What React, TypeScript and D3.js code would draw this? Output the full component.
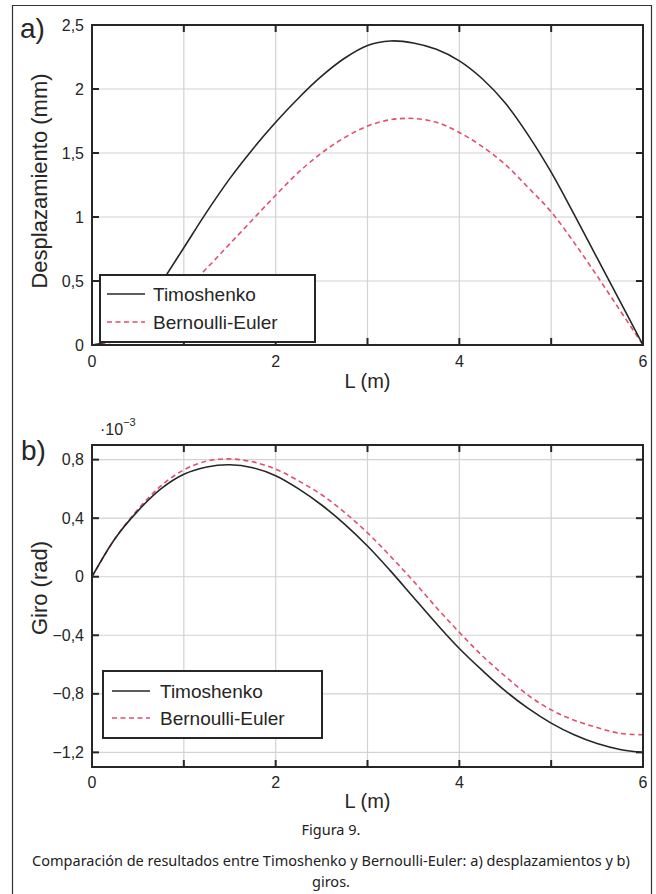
import React from "react";
import * as d3 from "d3";

const W = 656;
const H = 894;

const L_VALUES = [0, 0.25, 0.5, 0.75, 1, 1.25, 1.5, 1.75, 2, 2.25, 2.5, 2.75, 3, 3.25, 3.5, 3.75, 4, 4.25, 4.5, 4.75, 5, 5.25, 5.5, 5.75, 6];

const DISP_TIMOSHENKO = [0, 0.05, 0.2, 0.48, 0.76, 1.04, 1.3, 1.53, 1.74, 1.93, 2.1, 2.24, 2.34, 2.375, 2.36, 2.31, 2.22, 2.08, 1.89, 1.64, 1.35, 1.02, 0.68, 0.34, 0];
const DISP_BERNOULLI = [0, 0.03, 0.12, 0.26, 0.42, 0.6, 0.79, 0.98, 1.17, 1.35, 1.5, 1.62, 1.71, 1.76, 1.77, 1.74, 1.66, 1.55, 1.41, 1.23, 1.04, 0.8, 0.54, 0.27, 0];

const ROT_TIMOSHENKO = [0, 0.26, 0.45, 0.6, 0.7, 0.75, 0.765, 0.745, 0.69, 0.6, 0.49, 0.36, 0.21, 0.04, -0.14, -0.32, -0.49, -0.64, -0.78, -0.9, -1.0, -1.08, -1.14, -1.18, -1.2];
const ROT_BERNOULLI = [0, 0.26, 0.46, 0.62, 0.73, 0.79, 0.805, 0.785, 0.735, 0.655, 0.56, 0.44, 0.3, 0.14, -0.03, -0.21, -0.38, -0.54, -0.68, -0.81, -0.91, -0.98, -1.03, -1.07, -1.08];

const X_GRID = [0, 1, 2, 3, 4, 5, 6];
const X_TICK_LABELS = [0, 2, 4, 6];
const DISP_TICKS = [0, 0.5, 1, 1.5, 2, 2.5];
const ROT_TICKS = [-1.2, -0.8, -0.4, 0, 0.4, 0.8];

const SERIES_NAMES = ["Timoshenko", "Bernoulli-Euler"];

const fmt = (v: number) => {
  if (v === 0) return "0";
  const s = (Math.round(v * 10) / 10).toString().replace(".", ",");
  return s.replace("-", "\u2212");
};

const AXIS_FONT = "'Liberation Sans', Arial, Helvetica, sans-serif";
const CAPTION_FONT = "'Noto Sans', 'Open Sans', sans-serif";
const DARK = "#262626";
const RED = "#e0506a";
const GRID = "#d2d2d2";

type PanelProps = {
  top: number;
  bottom: number;
  yDomain: [number, number];
  yTicks: number[];
  tim: number[];
  ber: number[];
  legend: { x0: number; y0: number; x1: number; y1: number; lineX0: number; lineX1: number; textX: number; row1: number; row2: number };
  xLabelY: number;
  xTickY: number;
};

function Panel(p: PanelProps) {
  const left = 92;
  const right = 643;
  const x = d3.scaleLinear().domain([0, 6]).range([left, right]);
  const y = d3.scaleLinear().domain(p.yDomain).range([p.bottom, p.top]);
  const line = (vals: number[]) =>
    d3
      .line<number>()
      .x((_, i) => x(L_VALUES[i]))
      .y((v) => y(v))
      .curve(d3.curveCatmullRom.alpha(0.5))(vals) || "";
  const tickLen = 7;
  return (
    <g>
      {X_GRID.map((g) => (
        <line key={"gx" + g} x1={x(g)} x2={x(g)} y1={p.top} y2={p.bottom} stroke={GRID} strokeWidth={1.2} />
      ))}
      {p.yTicks.map((g) => (
        <line key={"gy" + g} x1={left} x2={right} y1={y(g)} y2={y(g)} stroke={GRID} strokeWidth={1.2} />
      ))}
      <path d={line(p.ber)} fill="none" stroke={RED} strokeWidth={1.6} strokeDasharray="5,3.5" />
      <path d={line(p.tim)} fill="none" stroke={DARK} strokeWidth={1.6} />
      {X_GRID.map((g) => (
        <g key={"tx" + g}>
          <line x1={x(g)} x2={x(g)} y1={p.bottom} y2={p.bottom - tickLen} stroke={DARK} strokeWidth={2} />
          <line x1={x(g)} x2={x(g)} y1={p.top} y2={p.top + tickLen} stroke={DARK} strokeWidth={2} />
        </g>
      ))}
      {p.yTicks.map((g) => (
        <g key={"ty" + g}>
          <line x1={left} x2={left + tickLen} y1={y(g)} y2={y(g)} stroke={DARK} strokeWidth={2} />
          <line x1={right} x2={right - tickLen} y1={y(g)} y2={y(g)} stroke={DARK} strokeWidth={2} />
        </g>
      ))}
      <rect x={left} y={p.top} width={right - left} height={p.bottom - p.top} fill="none" stroke={DARK} strokeWidth={2} />
      {X_TICK_LABELS.map((g) => (
        <text key={"lx" + g} x={x(g)} y={p.xTickY} textAnchor="middle" dominantBaseline="central" fontFamily={AXIS_FONT} fontSize={16} fill={DARK}>
          {fmt(g)}
        </text>
      ))}
      {p.yTicks.map((g) => (
        <text key={"ly" + g} x={left - 8} y={y(g)} textAnchor="end" dominantBaseline="central" fontFamily={AXIS_FONT} fontSize={16} fill={DARK}>
          {fmt(g)}
        </text>
      ))}
      <text x={(left + right) / 2} y={p.xLabelY} textAnchor="middle" dominantBaseline="central" fontFamily={AXIS_FONT} fontSize={20} fill={DARK}>
        L (m)
      </text>
      <rect x={p.legend.x0} y={p.legend.y0} width={p.legend.x1 - p.legend.x0} height={p.legend.y1 - p.legend.y0} fill="#fff" stroke={DARK} strokeWidth={2} />
      <line x1={p.legend.lineX0} x2={p.legend.lineX1} y1={p.legend.row1} y2={p.legend.row1} stroke={DARK} strokeWidth={1.6} />
      <line x1={p.legend.lineX0} x2={p.legend.lineX1} y1={p.legend.row2} y2={p.legend.row2} stroke={RED} strokeWidth={1.6} strokeDasharray="5,3.5" />
      <text x={p.legend.textX} y={p.legend.row1} dominantBaseline="central" fontFamily={AXIS_FONT} fontSize={19} fill={DARK}>
        {SERIES_NAMES[0]}
      </text>
      <text x={p.legend.textX} y={p.legend.row2} dominantBaseline="central" fontFamily={AXIS_FONT} fontSize={19} fill={DARK}>
        {SERIES_NAMES[1]}
      </text>
    </g>
  );
}

export default function App() {
  return (
    <svg width={W} height={H} style={{ position: "absolute", left: 0, top: 0, background: "#fff" }}>
      <rect x={0} y={0} width={W} height={H} fill="#fff" />
      <path d={`M12.5,${H + 2} L12.5,5.5 L651.5,5.5 L651.5,${H + 2}`} fill="none" stroke="#333" strokeWidth={1.2} />

      <text x={20} y={38} fontFamily={AXIS_FONT} fontSize={28} fill={DARK}>a)</text>
      <text x={0} y={0} transform="translate(39,181) rotate(-90)" textAnchor="middle" dominantBaseline="central" fontFamily={AXIS_FONT} fontSize={22} fill={DARK}>
        Desplazamiento (mm)
      </text>
      <Panel
        top={25}
        bottom={345}
        yDomain={[0, 2.5]}
        yTicks={DISP_TICKS}
        tim={DISP_TIMOSHENKO}
        ber={DISP_BERNOULLI}
        legend={{ x0: 100, y0: 275, x1: 315, y1: 342, lineX0: 107, lineX1: 145, textX: 153, row1: 294, row2: 322 }}
        xTickY={361}
        xLabelY={381}
      />

      <text x={21} y={460} fontFamily={AXIS_FONT} fontSize={28} fill={DARK}>b)</text>
      <text x={100} y={435} fontFamily={AXIS_FONT} fontSize={16} fill={DARK}>
        {"\u00B710"}
        <tspan dy={-9} fontSize={11}>{"\u22123"}</tspan>
      </text>
      <text x={0} y={0} transform="translate(39,588) rotate(-90)" textAnchor="middle" dominantBaseline="central" fontFamily={AXIS_FONT} fontSize={22} fill={DARK}>
        Giro (rad)
      </text>
      <Panel
        top={445}
        bottom={767}
        yDomain={[-1.3, 0.9]}
        yTicks={ROT_TICKS}
        tim={ROT_TIMOSHENKO}
        ber={ROT_BERNOULLI}
        legend={{ x0: 103, y0: 671, x1: 322, y1: 738, lineX0: 112, lineX1: 150, textX: 160, row1: 691, row2: 718 }}
        xTickY={782}
        xLabelY={801}
      />

      <text x={331} y={829} textAnchor="middle" dominantBaseline="central" fontFamily={CAPTION_FONT} fontSize={14.5} fill="#222">
        Figura 9.
      </text>
      <text x={331} y={860} textAnchor="middle" dominantBaseline="central" fontFamily={CAPTION_FONT} fontSize={14.5} fill="#222">
        Comparación de resultados entre Timoshenko y Bernoulli-Euler: a) desplazamientos y b)
      </text>
      <text x={331} y={880.5} textAnchor="middle" dominantBaseline="central" fontFamily={CAPTION_FONT} fontSize={14.5} fill="#222">
        giros.
      </text>
    </svg>
  );
}
